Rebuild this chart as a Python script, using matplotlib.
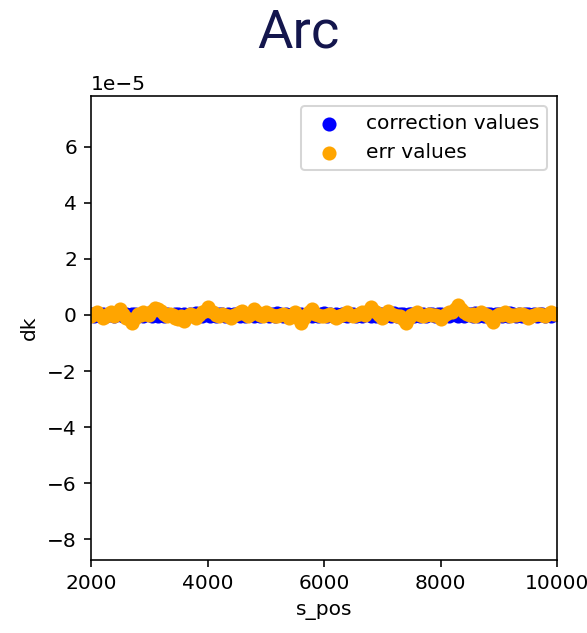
import matplotlib.pyplot as plt
import numpy as np

# s positions of the elements shown in the arc
s_pos = [2000, 2050, 2100, 2150, 2200, 2250, 2300, 2350, 2400, 2450,
         2500, 2550, 2600, 2650, 2700, 2750, 2800, 2850, 2900, 2950,
         3000, 3050, 3100, 3150, 3200, 3250, 3300, 3350, 3400, 3450,
         3500, 3550, 3600, 3650, 3700, 3750, 3800, 3850, 3900, 3950,
         4000, 4050, 4100, 4150, 4200, 4250, 4300, 4350, 4400, 4450,
         4500, 4550, 4600, 4650, 4700, 4750, 4800, 4850, 4900, 4950,
         5000, 5050, 5100, 5150, 5200, 5250, 5300, 5350, 5400, 5450,
         5500, 5550, 5600, 5650, 5700, 5750, 5800, 5850, 5900, 5950,
         6000, 6050, 6100, 6150, 6200, 6250, 6300, 6350, 6400, 6450,
         6500, 6550, 6600, 6650, 6700, 6750, 6800, 6850, 6900, 6950,
         7000, 7050, 7100, 7150, 7200, 7250, 7300, 7350, 7400, 7450,
         7500, 7550, 7600, 7650, 7700, 7750, 7800, 7850, 7900, 7950,
         8000, 8050, 8100, 8150, 8200, 8250, 8300, 8350, 8400, 8450,
         8500, 8550, 8600, 8650, 8700, 8750, 8800, 8850, 8900, 8950,
         9000, 9050, 9100, 9150, 9200, 9250, 9300, 9350, 9400, 9450,
         9500, 9550, 9600, 9650, 9700, 9750, 9800, 9850, 9900, 9950,
         10000]

# values in units of 1e-5
corr_vals = [0.05, -0.04, 0.03, -0.05, 0.04, -0.03, 0.05, 0.02, -0.05, 0.04,
             0.03, -0.04, 0.05, -0.05, 0.04, 0.02, -0.04, 0.05, -0.03, 0.04,
             0.06, -0.03, 0.04, -0.05, 0.03, -0.04, 0.05, 0.01, -0.05, 0.04,
             0.03, -0.05, 0.05, -0.03, 0.04, -0.04, 0.06, 0.02, -0.05, 0.03,
             0.05, -0.04, 0.03, -0.05, 0.04, 0.02, -0.03, 0.05, -0.05, 0.04,
             0.03, -0.04, 0.05, -0.05, 0.02, 0.04, -0.03, 0.05, -0.04, 0.03,
             0.05, -0.05, 0.04, -0.03, 0.06, 0.02, -0.05, 0.04, -0.04, 0.03,
             0.05, -0.03, 0.04, -0.05, 0.03, 0.05, -0.04, 0.02, -0.05, 0.04,
             0.06, -0.04, 0.03, -0.05, 0.04, -0.03, 0.05, 0.01, -0.05, 0.04,
             0.03, -0.04, 0.05, -0.05, 0.04, 0.02, -0.03, 0.05, -0.04, 0.03,
             0.05, -0.05, 0.03, -0.04, 0.06, -0.03, 0.04, 0.02, -0.05, 0.04,
             0.03, -0.04, 0.05, -0.05, 0.04, -0.03, 0.05, 0.02, -0.05, 0.03,
             0.05, -0.04, 0.04, -0.05, 0.03, 0.02, -0.03, 0.05, -0.05, 0.04,
             0.03, -0.04, 0.06, -0.05, 0.04, -0.03, 0.05, 0.02, -0.04, 0.03,
             0.05, -0.05, 0.04, -0.03, 0.06, 0.02, -0.05, 0.04, -0.04, 0.03,
             0.05, -0.03, 0.04, -0.05, 0.03, 0.05, -0.04, 0.02, -0.05, 0.04,
             0.03]

err_vals = [-0.05, 0.05, 0.10, 0.00, -0.10, -0.05, 0.05, 0.10, -0.05, 0.05,
            0.20, 0.05, -0.10, -0.15, -0.30, -0.10, 0.05, 0.00, 0.10, 0.05,
            0.00, 0.15, 0.25, 0.20, 0.15, 0.05, -0.05, 0.05, 0.00, -0.10,
            -0.15, -0.05, -0.20, -0.05, 0.05, 0.00, -0.10, 0.00, 0.10, 0.15,
            0.30, 0.15, 0.10, 0.00, -0.05, 0.05, 0.00, -0.05, -0.10, 0.00,
            0.05, 0.10, 0.15, 0.05, -0.05, 0.05, 0.20, 0.10, 0.00, -0.05,
            0.10, 0.05, 0.00, -0.05, -0.05, 0.00, 0.05, 0.00, -0.10, 0.00,
            0.10, -0.10, -0.30, -0.10, 0.05, 0.10, 0.20, 0.05, 0.00, -0.05,
            -0.05, 0.00, 0.05, -0.05, -0.10, -0.05, 0.00, 0.05, 0.10, 0.00,
            -0.05, 0.00, 0.05, 0.10, 0.00, 0.15, 0.30, 0.15, 0.10, 0.00,
            -0.10, 0.05, 0.15, 0.05, 0.00, -0.05, -0.05, -0.15, -0.30, -0.10,
            0.00, 0.05, 0.10, 0.00, -0.05, 0.00, 0.05, 0.00, 0.00, -0.05,
            -0.15, -0.05, 0.05, 0.10, 0.10, 0.20, 0.35, 0.20, 0.10, 0.05,
            0.00, 0.05, -0.05, 0.05, 0.10, 0.05, 0.00, -0.10, -0.25, -0.05,
            0.05, 0.00, 0.10, 0.05, -0.05, 0.00, 0.00, 0.05, 0.05, 0.00,
            -0.10, -0.05, 0.00, 0.05, 0.05, 0.00, -0.05, 0.05, 0.10, 0.05,
            0.05]

fig = plt.figure(figsize=(587/145, 633/145), dpi=145)
ax = fig.add_axes([0.155, 0.1153, 0.794, 0.733])

ax.scatter(s_pos, np.array(corr_vals)*1e-5, color="blue", label="correction values")
ax.scatter(s_pos, np.array(err_vals)*1e-5, color="orange", label="err values")

ax.set_xlim(2000, 10000)
ax.set_ylim(-8.75e-5, 7.82e-5)
ax.set_xticks([2000, 4000, 6000, 8000, 10000])
ax.set_yticks(np.arange(-8, 7, 2)*1e-5)
ax.set_xlabel("s_pos")
ax.set_ylabel("dk")
ax.legend(loc="upper right")

fig.text(0.508, 0.948, "Arc", ha="center", va="center", fontsize=27,
         family="Roboto", color="#14164d")

fig.savefig("out.png", dpi=145)
